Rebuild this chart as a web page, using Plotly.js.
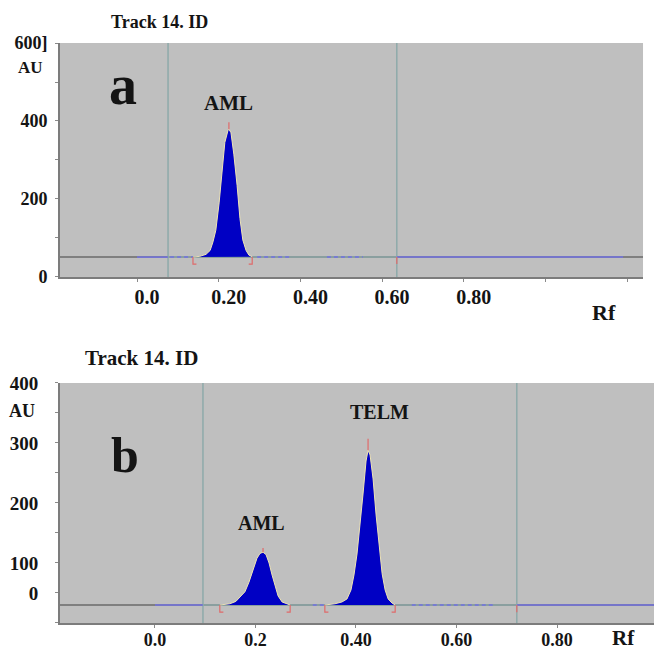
<!DOCTYPE html>
<html><head><meta charset="utf-8">
<script src="https://cdn.plot.ly/plotly-3.0.1.min.js"></script>
<style>html,body{margin:0;padding:0;background:#fff;} #chart{width:654px;height:649px;}</style>
</head><body><div id="chart"></div>
<script>
// ---------- Panel a (AML) ----------
const rfPeakA = [0.137,0.154,0.169,0.179,0.186,0.193,0.201,0.208,0.215,0.223,0.225,0.230,0.237,0.245,0.252,0.259,0.267,0.274,0.282];
const auPeakA = [51,53,58,68,90,120,190,270,345,377,379,370,315,235,150,95,68,56,52];
const baselineA = 51;
const signalA = [0.0, 0.076, 0.636, 1.19];
const windowA = [0.076, 0.636];
const dashRfA = [0.081,0.137,null,0.294,0.375,null,0.465,0.553];
const apexRfA = [0.225], apexTopA = [397];
const bracketsA = [0.137, 0.282];
const xTicksA = [0,0.2,0.4,0.6,0.8,1.0,1.2];
const xTickTextA = ['0.0','0.20','0.40','0.60','0.80','',''];
const yTicksA = [0,100,200,300,400,500,600];
const yTickTextA = ['0','','200','','400','','600]'];

// ---------- Panel b (AML + TELM) ----------
const rfAmlB = [0.129,0.149,0.161,0.171,0.179,0.187,0.195,0.203,0.209,0.215,0.221,0.227,0.233,0.239,0.245,0.253,0.261,0.269];
const auAmlB = [30,32,36,45,52,68,90,108,116,118,114,100,80,60,45,35,32,30];
const rfTelmB = [0.338,0.358,0.372,0.382,0.390,0.396,0.402,0.408,0.414,0.420,0.424,0.428,0.434,0.440,0.446,0.452,0.458,0.464,0.472,0.478];
const auTelmB = [30,32,35,40,55,80,115,160,215,270,288,280,240,180,125,82,55,40,33,30];
const baselineB = 30;
const signalB = [0.0, 0.0955, 0.720, 0.993];
const windowB = [0.0955, 0.720];
const dashRfB = [0.314,0.338,null,0.511,0.677];
const apexRfB = [0.215, 0.424], apexAuB = [118, 288], apexTopB = [125, 307];
const bracketsB = [0.129, 0.269, 0.338, 0.478];
const xTicksB = [0,0.2,0.4,0.6,0.8];
const xTickTextB = ['0.0','0.2','0.40','0.60','0.80'];
const yTicksB = [0,50,100,150,200,250,300,350,400];
const yTickTextB = ['','0','100','','200','','300','','400'];

const F = 'Liberation Serif, Times New Roman, serif';
const BLUE = '#0000c4', SIG = '#7272e2', DARK = '#6a6a6a', TEAL = '#8eaaaa', RED = '#e06a6a', CREAM = '#eee4b4';

function panelTraces(xa, ya, xr, base, sig, win, dash, peaks, apexRf, apexAu, apexTop, brackets, yTop, wEnd) {
  const t = [];
  t.push({x:[xr[0], xr[1]], y:[base, base], xaxis:xa, yaxis:ya, mode:'lines', line:{color:DARK, width:1.5}});
  t.push({x:[win[0], win[1]], y:[base, base], xaxis:xa, yaxis:ya, mode:'lines', line:{color:TEAL, width:1.5}});
  win.forEach(w => t.push({x:[w, w], y:[0, yTop], xaxis:xa, yaxis:ya, mode:'lines', line:{color:TEAL, width:1.5}}));
  t.push({x:[sig[0], sig[1], null, sig[2], sig[3]], y:[base, base, null, base, base], xaxis:xa, yaxis:ya, mode:'lines', line:{color:SIG, width:1.5}});
  t.push({x:dash, y:dash.map(v => v === null ? null : base), xaxis:xa, yaxis:ya, mode:'lines', line:{color:SIG, width:1.5, dash:'4px,3px'}});
  peaks.forEach(p => {
    t.push({x:p[0], y:p[1], xaxis:xa, yaxis:ya, mode:'lines', fill:'toself', fillcolor:BLUE, line:{width:0, color:BLUE}});
    t.push({x:p[0], y:p[1], xaxis:xa, yaxis:ya, mode:'lines', line:{color:CREAM, width:1}});
  });
  apexRf.forEach((r, i) => t.push({x:[r, r], y:[apexAu[i], apexTop[i]], xaxis:xa, yaxis:ya, mode:'lines', line:{color:RED, width:1.2}}));
  const d = (xr[1] - xr[0]) * 0.006, h = yTop * 0.03;
  brackets.forEach((b, i) => {
    const s = (i % 2 === 0) ? 1 : -1;
    t.push({x:[b, b, b + s*d], y:[base, base - h, base - h], xaxis:xa, yaxis:ya, mode:'lines', line:{color:RED, width:1.2}});
  });
  t.push({x:[wEnd, wEnd], y:[base, base - h], xaxis:xa, yaxis:ya, mode:'lines', line:{color:RED, width:1.2}});
  return t;
}

const xrA = [-0.1885, 1.2387], xrB = [-0.189, 0.993];
const traces = [].concat(
  panelTraces('x', 'y', xrA, baselineA, signalA, windowA, dashRfA, [[rfPeakA, auPeakA]], apexRfA, [auPeakA[10]], apexTopA, bracketsA, 600, windowA[1]),
  panelTraces('x2', 'y2', xrB, baselineB, signalB, windowB, dashRfB, [[rfAmlB, auAmlB], [rfTelmB, auTelmB]], apexRfB, apexAuB, apexTopB, bracketsB, 400, windowB[1])
);
traces.forEach(t => { t.hoverinfo = 'skip'; t.showlegend = false; });

const tf = (s) => ({family:F, size:s, color:'#141414', weight:'bold'});
const axBase = {showgrid:false, zeroline:false, showline:true, linecolor:'#7c7c7c', linewidth:2, ticks:'outside', ticklen:3, tickcolor:'#8a8a8a', tickwidth:1, fixedrange:true};
const ann = (text, xref, yref, x, y, size) => ({text, xref, yref, x, y, showarrow:false, xanchor:'center', yanchor:'middle', font:tf(size)});

const layout = {
  width:654, height:649, margin:{l:60, r:0, t:43, b:26},
  paper_bgcolor:'#ffffff', plot_bgcolor:'#bfbfbf', showlegend:false,
  xaxis: Object.assign({}, axBase, {domain:[0, 0.9815], anchor:'y', range:xrA, tickmode:'array', tickvals:xTicksA, ticktext:xTickTextA, tickfont:tf(20), ticklabelshift:10, ticklabelstandoff:-2}),
  yaxis: Object.assign({}, axBase, {domain:[0.5966, 1], anchor:'x', range:[0, 600], tickmode:'array', tickvals:yTicksA, ticktext:yTickTextA, tickfont:tf(18), ticklabelstandoff:4}),
  xaxis2: Object.assign({}, axBase, {domain:[0, 1], anchor:'y2', range:xrB, tickmode:'array', tickvals:xTicksB, ticktext:xTickTextB, tickfont:tf(18), ticklabelstandoff:-4}),
  yaxis2: Object.assign({}, axBase, {domain:[0, 0.4138], anchor:'x2', range:[0, 400], tickmode:'array', tickvals:yTicksB, ticktext:yTickTextB, tickfont:tf(19), ticklabelstandoff:13}),
  annotations: [
    ann('Track 14. ID', 'paper', 'paper', 0.1667, 1.0362, 18),
    ann('AU', 'paper', 'paper', -0.0505, 0.9569, 17),
    ann('a', 'paper', 'paper', 0.106, 0.9276, 56),
    ann('AML', 'x', 'y', 0.223, 446, 21),
    ann('Rf', 'paper', 'paper', 0.9158, 0.5345, 22),
    ann('Track 14. ID', 'paper', 'paper', 0.1364, 0.4569, 21),
    ann('AU', 'paper', 'paper', -0.064, 0.3655, 18),
    ann('b', 'paper', 'paper', 0.1094, 0.2897, 50),
    ann('AML', 'x2', 'y2', 0.211, 167, 20),
    ann('TELM', 'x2', 'y2', 0.446, 352, 20),
    ann('Rf', 'paper', 'paper', 0.948, -0.025, 21)
  ]
};

Plotly.newPlot('chart', traces, layout, {staticPlot:true, displayModeBar:false});
</script>
</body></html>
